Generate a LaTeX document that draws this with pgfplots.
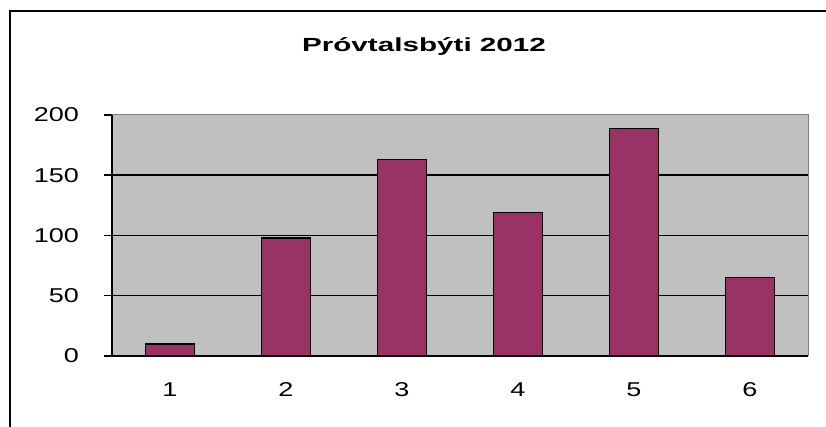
\documentclass[border=0pt]{standalone}
\usepackage{pgfplots}
\pgfplotsset{compat=1.18}
\usepackage{fontspec}
\setmainfont{Liberation Sans}
\newfontfamily\widefont[FakeStretch=1.35]{Liberation Sans}
\newfontfamily\widetitle[FakeStretch=1.56]{Liberation Sans Bold}
\definecolor{barcol}{HTML}{993366}
\definecolor{plotbg}{HTML}{C0C0C0}
\definecolor{plotedge}{HTML}{808080}
\begin{document}
\begin{tikzpicture}[x=1pt,y=1pt]
\useasboundingbox (0,0) rectangle (826,427);
\draw[black, line width=1.5pt] (10,-5) -- (10,416) -- (840,416);
\node[font=\widetitle\fontsize{19}{22}\selectfont, anchor=base, inner sep=0pt] at (424,375.5) {Próvtalsbýti 2012};
\begin{axis}[
  at={(112pt,71pt)}, anchor=south west,
  width=696pt, height=241pt, scale only axis,
  xmin=0.5, xmax=6.5, ymin=0, ymax=200,
  axis background/.style={fill=plotbg, draw=plotedge, line width=1pt},
  axis x line*=bottom, axis y line*=left,
  axis line style={black, line width=1.5pt, -},
  xtick={1,2,3,4,5,6},
  x tick style={draw=none},
  ytick={0,50,100,150,200},
  y tick style={black, line width=1.5pt},
  ytick align=outside, major tick length=8pt,
  extra x ticks={0.5,1.5,2.5,3.5,4.5,5.5,6.5},
  extra x tick labels={},
  extra x tick style={tick style={draw=black, line width=1.5pt}, major tick length=5pt, tick align=outside},
  extra y ticks={50,100,150},
  extra y tick labels={},
  extra y tick style={grid=major, major grid style={black, line width=1.5pt}, major tick length=0pt},
  ticklabel style={font=\widefont\fontsize{20}{22}\selectfont},
  /pgf/number format/assume math mode=true,
  xticklabel style={anchor=base, inner sep=0pt, yshift=-41pt},
  yticklabel style={anchor=east, inner sep=0pt, xshift=-25pt},
]
\addplot[ybar, bar width=48.6pt, fill=barcol, draw=black, line width=1.5pt]
  coordinates {(1,10) (2,98) (3,163) (4,119) (5,189) (6,65)};
\end{axis}
\end{tikzpicture}
\end{document}
